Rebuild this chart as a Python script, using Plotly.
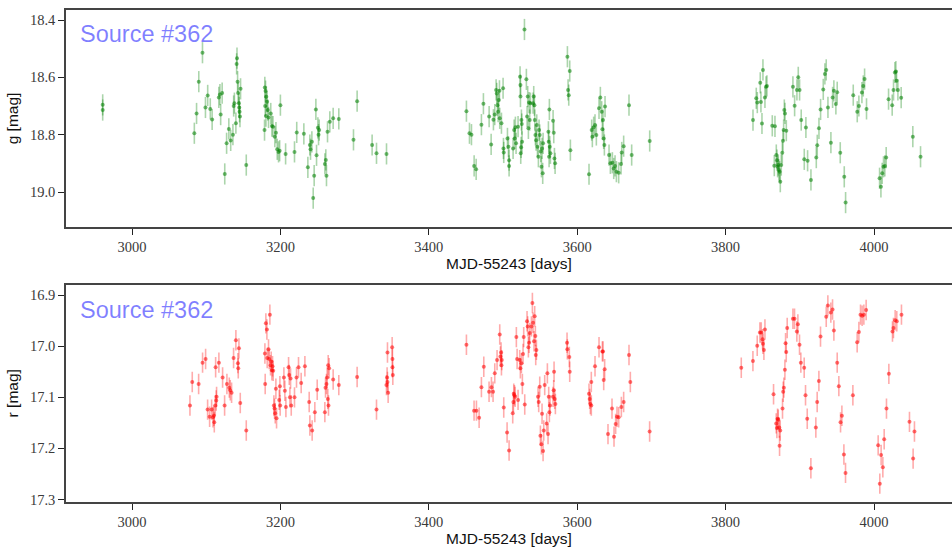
import plotly.graph_objects as go

# ---------------- data ----------------
g_mjd = [2960.5, 2960.5, 3084, 3087, 3090, 3095, 3099, 3102, 3105.5, 3108, 3117, 3118.5, 3119.5, 3121.5,
         3125, 3127.5, 3130.5, 3133, 3136, 3137, 3138, 3140, 3141, 3141.5, 3142.3, 3143, 3144, 3144.5, 3145,
         3145.5, 3146.3, 3154, 3179, 3180, 3181, 3182, 3179.5, 3183, 3180.5, 3184, 3178.6, 3187, 3188.5, 3190,
         3192.5, 3194, 3195.7, 3197.5, 3199, 3200, 3207, 3219, 3222, 3231.6, 3237, 3239.7, 3240.6, 3242.4,
         3244.2, 3245.5, 3247.8, 3248.7, 3250.5, 3251.4, 3252.3, 3259.9, 3261.2, 3262.1, 3263.5, 3266.6,
         3271.1, 3278.7, 3298.5, 3303.4, 3323.6, 3329.5, 3343,
         3450.7, 3454.8, 3457.5, 3461.1, 3463.8, 3470.9, 3473.6, 3481.3, 3484, 3487.1, 3488.9, 3490.7, 3491.6,
         3492.5, 3493.4, 3494.3, 3495.2, 3495.6, 3497.9, 3500.1, 3500.6, 3501, 3506, 3507.3, 3508.2, 3508.2,
         3513.6, 3515, 3515.8, 3516.7, 3517.6, 3520.3, 3523, 3523.5, 3523.5, 3523.9, 3524.4, 3524.8, 3525.3,
         3525.7, 3528.9, 3531.5, 3532.5, 3533.3, 3534.2, 3535.1, 3536, 3536.9, 3540.5, 3541.4, 3542.3, 3542.8,
         3543.7, 3544.6, 3545.5, 3546.4, 3547.7, 3548.6, 3549.5, 3550.9, 3551.8, 3552.6, 3553.5, 3554,
         3561.2, 3561.6, 3562.1, 3562.5, 3563, 3563.9, 3567.5, 3568.4, 3569.3, 3570.2, 3586.8, 3587.7, 3588.6,
         3589.9, 3590.8, 3615.9, 3619.5, 3620.4, 3622.2, 3624, 3625.8, 3629.4, 3631.2, 3633, 3633.9, 3634.8,
         3635.7, 3636.6, 3637.5, 3642.9, 3644.7, 3647.4, 3649.2, 3651, 3652.8, 3655.9, 3659.1, 3660, 3662.6,
         3669.8, 3673.4, 3697.7,
         3836.9, 3841.3, 3842.7, 3846.7, 3847.6, 3849, 3850.3, 3853, 3854.4, 3855.7, 3862.9, 3866.5, 3865.6,
         3868.3, 3869.2, 3870.1, 3871, 3871.9, 3872.8, 3873.7, 3875, 3876.4, 3877.3, 3878.2, 3879.1, 3880,
         3881.8, 3890.7, 3893, 3896.1, 3897.9, 3899.7, 3901.9, 3906, 3908.2, 3910.5, 3915, 3922.2, 3923.5,
         3925.8, 3928, 3931.6, 3933.8, 3935.6, 3937.9, 3941.9, 3944.2, 3945.9, 3948.6, 3950.4, 3954.5, 3959.9,
         3961.7, 3972, 3977.4, 3979.6, 3983.7, 3985.5, 3987.3, 3989.9, 4007.5, 4009.3, 4011, 4012.8, 4014.6,
         4016.4, 4019.6, 4024.5, 4026.3, 4028.1, 4029.5, 4030.4, 4032.2, 4036.6, 4052.3, 4062.7]
g_mag = [18.696, 18.714, 18.795, 18.726, 18.615, 18.514, 18.705, 18.663, 18.71, 18.747, 18.67, 18.66, 18.73,
         18.655, 18.937, 18.83, 18.78, 18.82, 18.80, 18.70, 18.69, 18.76, 18.553, 18.533, 18.615, 18.655, 18.69,
         18.705, 18.72, 18.737, 18.64, 18.906, 18.635, 18.648, 18.668, 18.685, 18.700, 18.714, 18.735, 18.740,
         18.784, 18.726, 18.77, 18.772, 18.807, 18.793, 18.851, 18.86, 18.856, 18.697, 18.867, 18.86, 18.792,
         18.797, 18.914, 18.836, 18.851, 18.825, 19.021, 18.943, 18.712, 18.872, 18.776, 18.80, 18.784, 18.902,
         18.888, 18.943, 18.79, 18.755, 18.743, 18.745, 18.818, 18.683, 18.836, 18.865, 18.867,
         18.718, 18.795, 18.80, 18.909, 18.921, 18.765, 18.692, 18.737, 18.834, 18.748, 18.73, 18.644, 18.656,
         18.697, 18.72, 18.679, 18.647, 18.743, 18.76, 18.638, 18.848, 18.862, 18.813, 18.842, 18.889, 18.909,
         18.848, 18.784, 18.813, 18.774, 18.83, 18.772, 18.598, 18.627, 18.667, 18.865, 18.844, 18.749, 18.763,
         18.825, 18.433, 18.607, 18.737, 18.667, 18.778, 18.688, 18.749, 18.69, 18.69, 18.667, 18.697, 18.749,
         18.801, 18.819, 18.766, 18.842, 18.877, 18.784, 18.801, 18.859, 18.912, 18.848, 18.935, 18.83,
         18.79, 18.825, 18.877, 18.712, 18.842, 18.865, 18.751, 18.793, 18.883, 18.90, 18.528, 18.644, 18.662,
         18.578, 18.854, 18.938, 18.784, 18.807, 18.774, 18.766, 18.801, 18.708, 18.67, 18.72, 18.781, 18.749,
         18.813, 18.836, 18.702, 18.871, 18.9, 18.898, 18.918, 18.909, 18.929, 18.933, 18.902, 18.862, 18.84,
         18.697, 18.871, 18.822,
         18.749, 18.673, 18.688, 18.619, 18.686, 18.761, 18.574, 18.67, 18.633, 18.63, 18.769, 18.771, 18.908,
         18.871, 18.889, 18.912, 18.906, 18.923, 18.929, 18.964, 18.906, 18.863, 18.821, 18.784, 18.714, 18.726,
         18.786, 18.633, 18.699, 18.644, 18.6, 18.644, 18.749, 18.886, 18.775, 18.891, 18.958, 18.88, 18.837,
         18.778, 18.712, 18.642, 18.588, 18.574, 18.705, 18.828, 18.67, 18.647, 18.693, 18.652, 18.863, 18.947,
         19.037, 18.662, 18.72, 18.7, 18.653, 18.63, 18.606, 18.71, 18.952, 18.982, 18.935, 18.912, 18.909,
         18.88, 18.676, 18.697, 18.644, 18.583, 18.58, 18.612, 18.644, 18.671, 18.807, 18.877]
g_err = 0.037

r_mjd = [3078.1, 3081.2, 3089.8, 3095.1, 3099.2, 3101.9, 3104.6, 3107.3, 3109.1, 3110.4, 3110.9, 3112.2, 3113.5,
         3114, 3112.7, 3117.1, 3122.1, 3124.8, 3127.9, 3131.1, 3132.4, 3134.2, 3136.9, 3140, 3142.7, 3143.2,
         3144.1, 3145.9, 3154, 3179.1, 3179.5, 3180.4, 3181.8, 3182.2, 3184, 3184.9, 3185.8, 3186.7, 3187.6,
         3188.5, 3189.4, 3190.3, 3191.2, 3192.1, 3193, 3193.9, 3194.8, 3198.4, 3199.3, 3199.7, 3204.7, 3206,
         3207.4, 3211, 3211.9, 3212.8, 3213.7, 3214.6, 3219, 3221.7, 3224.4, 3228, 3233, 3238.8, 3239.7, 3242.8,
         3246.4, 3249.6, 3259.9, 3260.8, 3262.1, 3263, 3263.9, 3264.4, 3264.8, 3265.7, 3271.1, 3278.7, 3303.4,
         3329.5, 3342.9, 3343.8, 3344.3, 3344.3, 3345.2, 3350.6, 3351, 3351, 3351.5,
         3450.7, 3461, 3464.2, 3467.8, 3470.9, 3474.1, 3481.2, 3484.4, 3486.6, 3488.9, 3492, 3495.6, 3496.5,
         3497.4, 3497.9, 3498.3, 3501, 3505.5, 3508.2, 3513.1, 3514, 3514.5, 3515.4, 3516.3, 3518, 3519, 3520.3,
         3522.5, 3523.4, 3524.8, 3526.1, 3527, 3527.9, 3529.3, 3532.4, 3533.3, 3534.2, 3535.1, 3536, 3538.3,
         3539.6, 3540.5, 3541.8, 3542.7, 3543.6, 3544.1, 3545, 3547.2, 3548.1, 3549.5, 3550.4, 3551.7, 3552.6,
         3554, 3554.9, 3556.2, 3558.9, 3559.8, 3560.7, 3561.6, 3562.5, 3563.4, 3567.4, 3568.3, 3568.8, 3569.7,
         3570.6, 3586.3, 3586.7, 3589.4, 3589.9, 3615.9, 3616.8, 3617.7, 3619, 3619, 3624, 3629.4, 3633.9,
         3634.8, 3635.7, 3637, 3641.5, 3646.9, 3649.6, 3651.8, 3653.6, 3655.9, 3659.5, 3662.6, 3669.8, 3671.6,
         3697.6,
         3821.1, 3836.8, 3842.6, 3846.2, 3848, 3849.8, 3850.3, 3851.6, 3853, 3864.6, 3868.2, 3869.1, 3870,
         3870.9, 3872.3, 3873.6, 3872.7, 3876.7, 3877.6, 3878.5, 3879.9, 3880.8, 3881.7, 3883, 3890.7, 3892.9,
         3896, 3897.4, 3899.6, 3901.4, 3905.9, 3907.7, 3910, 3914.9, 3921.6, 3923.4, 3925.7, 3927.9, 3935.6,
         3937.8, 3941.8, 3944.1, 3945.9, 3950.4, 3952.6, 3954.9, 3956.7, 3959.4, 3961.6, 3971.5, 3977.3, 3979.6,
         3981.8, 3984, 3986.3, 3989.4, 4005.6, 4007.8, 4009.6, 4011.9, 4013.7, 4016.8, 4020, 4024.9, 4026.2,
         4028.5, 4030.7, 4037, 4047.8, 4052.7, 4054.5]
r_mag = [17.116, 17.07, 17.074, 17.032, 17.025, 17.124, 17.138, 17.124, 17.139, 17.136, 17.149, 17.116, 17.106,
         17.099, 17.041, 17.032, 17.061, 17.116, 17.074, 17.081, 17.086, 17.091, 17.023, 16.988, 17.033, 17.043,
         17.004, 17.111, 17.165, 17.014, 17.074, 16.955, 16.967, 17.023, 17.006, 17.025, 16.938, 17.037, 17.03,
         17.047, 17.039, 17.048, 17.116, 17.122, 17.131, 17.083, 17.141, 17.105, 17.078, 17.116, 17.061, 17.087,
         17.119, 17.041, 17.056, 17.1, 17.063, 17.116, 17.1, 17.061, 17.041, 17.072, 17.039, 17.109, 17.155,
         17.165, 17.129, 17.085, 17.129, 17.081, 17.074, 17.061, 17.103, 17.037, 17.116, 17.043, 17.065, 17.076,
         17.06, 17.124, 17.076, 17.061, 17.07, 17.012, 17.091, 17.002, 17.025, 17.041, 17.056,
         16.997, 17.126, 17.126, 17.14, 17.08, 17.04, 17.089, 17.08, 17.089, 17.053, 17.027, 16.977, 17.02,
         17.012, 17.037, 17.027, 17.12, 17.169, 17.204, 17.131, 17.109, 17.093, 17.096, 17.099, 16.982, 17.025,
         17.105, 17.027, 17.043, 17.033, 17.074, 17.015, 16.982, 17.114, 16.951, 16.961, 17.002, 16.993, 16.974,
         16.961, 16.915, 16.954, 16.99, 16.941, 16.98, 17.017, 17.007, 17.099, 17.109, 17.079, 17.175, 17.192,
         17.132, 17.205, 17.165, 17.076, 17.151, 17.053, 17.172, 17.099, 17.129, 17.116, 17.099, 17.086, 17.05,
         17.103, 17.113, 16.993, 17.006, 17.021, 17.05, 17.093, 17.103, 17.113, 17.116, 17.07, 17.039, 17.002,
         17.01, 17.01, 17.066, 17.045, 17.172, 17.122, 17.177, 17.152, 17.138, 17.139, 17.119, 17.109, 17.017,
         17.07, 17.167,
         17.042, 17.029, 16.999, 16.973, 16.973, 16.986, 16.995, 17.007, 16.967, 17.094, 17.151, 17.16, 17.142,
         17.144, 17.159, 17.165, 17.195, 17.122, 17.089, 17.081, 17.046, 16.994, 17.011, 16.964, 16.946, 16.946,
         16.971, 16.957, 16.997, 17.032, 17.042, 17.096, 17.142, 17.239, 17.159, 17.109, 17.068, 16.981, 16.942,
         16.92, 16.934, 16.928, 16.969, 17.032, 17.078, 17.149, 17.136, 17.212, 17.248, 17.096, 16.992, 16.972,
         16.938, 16.94, 16.938, 16.929, 17.194, 17.269, 17.213, 17.237, 17.182, 17.122, 17.054, 16.971, 16.964,
         16.949, 16.951, 16.938, 17.148, 17.22, 17.167]
r_err = 0.02

g_ticks = [18.4, 18.6, 18.8, 19.0]
r_ticks = [16.9, 17.0, 17.1, 17.2, 17.3]
x_ticks = [3000, 3200, 3400, 3600, 3800, 4000]
source_label = "Source #362"

# ---------------- figure ----------------
fig = go.Figure()

fig.add_trace(go.Scatter(
    x=g_mjd, y=g_mag, mode="markers", xaxis="x", yaxis="y",
    marker=dict(size=4, color="rgba(0,128,0,0.55)", line=dict(width=0)),
    error_y=dict(type="constant", value=g_err, color="rgba(0,128,0,0.33)", thickness=1.6, width=0),
    showlegend=False, hoverinfo="x+y"))

fig.add_trace(go.Scatter(
    x=r_mjd, y=r_mag, mode="markers", xaxis="x2", yaxis="y2",
    marker=dict(size=4, color="rgba(255,0,0,0.55)", line=dict(width=0)),
    error_y=dict(type="constant", value=r_err, color="rgba(255,0,0,0.33)", thickness=1.6, width=0),
    showlegend=False, hoverinfo="x+y"))

tickfont = dict(family="Liberation Serif, serif", size=14.5, color="#3a3a3a")
titlefont = dict(family="Liberation Sans, Arial, sans-serif", size=15.5, color="#111")
line_col = "#444"

xcommon = dict(range=[2911.05, 4105.1], tickvals=x_ticks, ticks="outside", ticklen=6, tickwidth=1.2,
               tickcolor="#222", showline=True, linecolor=line_col, linewidth=1.5, mirror=True,
               showgrid=False, zeroline=False, tickfont=tickfont,
               title=dict(text="MJD-55243 [days]", font=titlefont, standoff=2))
ycommon = dict(ticks="outside", ticklen=6, tickwidth=1.2, tickcolor="#222", showline=True,
               linecolor=line_col, linewidth=1.5, mirror=False, showgrid=False, zeroline=False,
               tickfont=tickfont)

fig.update_layout(
    width=952, height=549,
    margin=dict(l=66, r=0, t=10, b=47),
    plot_bgcolor="white", paper_bgcolor="white",
    xaxis=dict(domain=[0, 1], anchor="y", **xcommon),
    yaxis=dict(domain=[0.559, 1], anchor="x", range=[19.122, 18.365], tickvals=g_ticks,
               ticktext=["18.4", "18.6", "18.8", "19.0"],
               title=dict(text="g [mag]", font=titlefont, standoff=8), **ycommon),
    xaxis2=dict(domain=[0, 1], anchor="y2", **xcommon),
    yaxis2=dict(domain=[0, 0.442], anchor="x2", range=[17.305, 16.879], tickvals=r_ticks,
                ticktext=["16.9", "17.0", "17.1", "17.2", "17.3"],
                title=dict(text="r [mag]", font=titlefont, standoff=8), **ycommon),
)

label_font = dict(family="Liberation Sans, Arial, sans-serif", size=23.5, color="rgba(0,0,255,0.5)")
fig.add_annotation(text=source_label, xref="x domain", yref="y domain", x=0.014, y=0.89,
                   xanchor="left", yanchor="middle", showarrow=False, font=label_font)
fig.add_annotation(text=source_label, xref="x2 domain", yref="y2 domain", x=0.014, y=0.885,
                   xanchor="left", yanchor="middle", showarrow=False, font=label_font)

fig.write_html("out.html")
